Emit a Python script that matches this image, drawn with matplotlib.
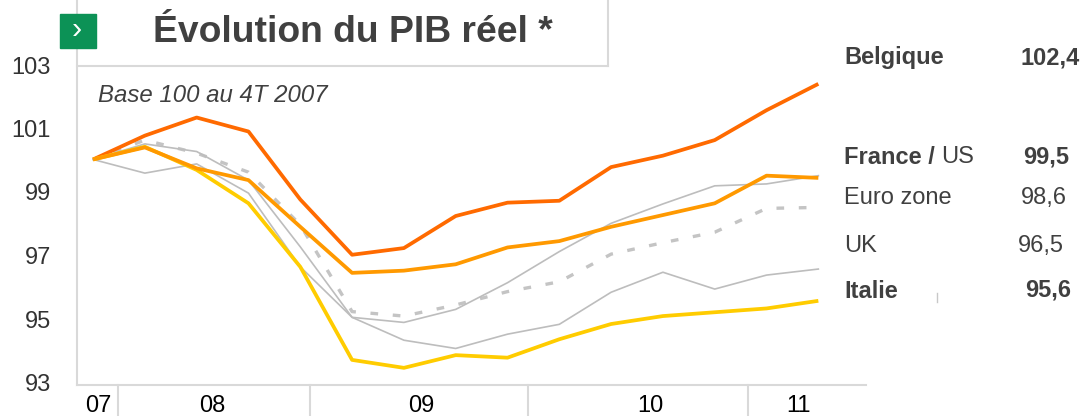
import matplotlib
matplotlib.use("Agg")
import matplotlib.pyplot as plt
from matplotlib.lines import Line2D
from matplotlib.patches import Rectangle

W, H = 1082, 416

# quarters 4T07 -> 2T11, base 100
quarters = list(range(15))
belgique = [100, 100.75, 101.32, 100.88, 98.74, 97.0, 97.21, 98.22, 98.64, 98.70, 99.76, 100.12, 100.61, 101.55, 102.38]
france = [100, 100.38, 99.72, 99.35, 97.88, 96.43, 96.5, 96.70, 97.23, 97.43, 97.88, 98.25, 98.62, 99.49, 99.42]
italie = [100, 100.4, 99.67, 98.62, 96.62, 93.69, 93.44, 93.84, 93.76, 94.34, 94.82, 95.07, 95.19, 95.31, 95.55]
us = [100, 100.49, 100.25, 99.35, 97.25, 95.03, 94.87, 95.28, 96.12, 97.1, 97.99, 98.6, 99.17, 99.23, 99.49]
uk = [100, 99.57, 99.86, 98.94, 96.62, 95.03, 94.31, 94.05, 94.5, 94.81, 95.82, 96.45, 95.92, 96.36, 96.55]
euro = [100, 100.61, 100.2, 99.6, 97.94, 95.21, 95.07, 95.42, 95.84, 96.15, 97.02, 97.38, 97.71, 98.46, 98.49]

y_ticks = [93, 95, 97, 99, 101, 103]
year_labels = ["07", "08", "09", "10", "11"]
year_pos = [98, 212, 421, 650, 798]
year_seps = [118, 310, 528, 748]

TXT = "#404040"
GRID = "#d9d9d9"
plt.rcParams["font.family"] = ["Liberation Sans", "DejaVu Sans"]


def px(x, y):
    return x / W, 1 - y / H


fig = plt.figure(figsize=(W / 100, H / 100), dpi=100)
ax = fig.add_axes([77 / W, 1 - 385 / H, (866 - 77) / W, 385 / H])
ax.set_xlim(-0.31, 14.92)
ax.set_ylim(92.9, 105.02)

ax.plot(quarters, euro, color="#c4c4c4", lw=2.4, dashes=(2.3, 4.4), dash_capstyle="butt")
ax.plot(quarters, us, color="#bdbdbd", lw=1.2)
ax.plot(quarters, uk, color="#bdbdbd", lw=1.2)
ax.plot(quarters, belgique, color="#ff6a00", lw=2.7, solid_capstyle="butt")
ax.plot(quarters, italie, color="#ffcc00", lw=2.7, solid_capstyle="butt")
ax.plot(quarters, france, color="#ff9900", lw=2.7, solid_capstyle="butt")

for s in ["top", "right"]:
    ax.spines[s].set_visible(False)
for s in ["left", "bottom"]:
    ax.spines[s].set_color(GRID)
    ax.spines[s].set_linewidth(1.5)
ax.set_xticks([])
ax.set_yticks([])
for v in y_ticks:
    fig.text(*px(51, 385 - (v - 93) * 31.75), str(v), ha="right", va="center",
             fontsize=17, color="#333333")

# year axis
for s in year_seps:
    fig.add_artist(Line2D([s / W, s / W], [1 - 385 / H, 0], color=GRID, lw=1.5))
for lab, x in zip(year_labels, year_pos):
    fig.text(*px(x, 406), lab, ha="center", va="center", fontsize=17, color="black")

# title box
fig.add_artist(Line2D([77 / W, 608 / W], [1 - 66 / H, 1 - 66 / H], color=GRID, lw=1.5))
fig.add_artist(Line2D([608 / W, 608 / W], [1 - 66 / H, 1], color=GRID, lw=1.5))
fig.add_artist(Rectangle(px(60, 48), 36 / W, 34 / H, transform=fig.transFigure, color="#0c9256"))
fig.text(*px(77, 30), "›", ha="center", va="center", fontsize=22, color="white")
fig.text(*px(353, 33), "Évolution du PIB réel *", ha="center", va="center",
         fontsize=26.8, fontweight="bold", color=TXT)
fig.text(*px(98, 96), "Base 100 au 4T 2007", ha="left", va="center", fontsize=17.3,
         style="italic", color=TXT)

# end labels
fig.text(*px(844, 57.5), "Belgique", va="center", fontsize=17, fontweight="bold", color=TXT)
fig.text(*px(1080, 57.5), "102,4", va="center", ha="right", fontsize=17, fontweight="bold", color=TXT)
fig.text(*px(844, 157), "France /", va="center", fontsize=17, fontweight="bold", color=TXT)
fig.text(*px(941, 157), "US", va="center", fontsize=17, color=TXT)
fig.text(*px(1069, 157), "99,5", va="center", ha="right", fontsize=17, fontweight="bold", color=TXT)
fig.text(*px(844, 198), "Euro zone", va="center", fontsize=17, color=TXT)
fig.text(*px(1067, 198), "98,6", va="center", ha="right", fontsize=17, color=TXT)
fig.text(*px(844, 246), "UK", va="center", fontsize=17, color=TXT)
fig.text(*px(1064, 246), "96,5", va="center", ha="right", fontsize=17, color=TXT)
fig.text(*px(844, 291), "Italie", va="center", fontsize=17, fontweight="bold", color=TXT)
fig.text(*px(1071, 290), "95,6", va="center", ha="right", fontsize=17, fontweight="bold", color=TXT)
fig.add_artist(Line2D([937 / W, 937 / W], [1 - 293 / H, 1 - 302 / H], color="#c8c8c8", lw=1))

fig.savefig("out.png", dpi=100)
